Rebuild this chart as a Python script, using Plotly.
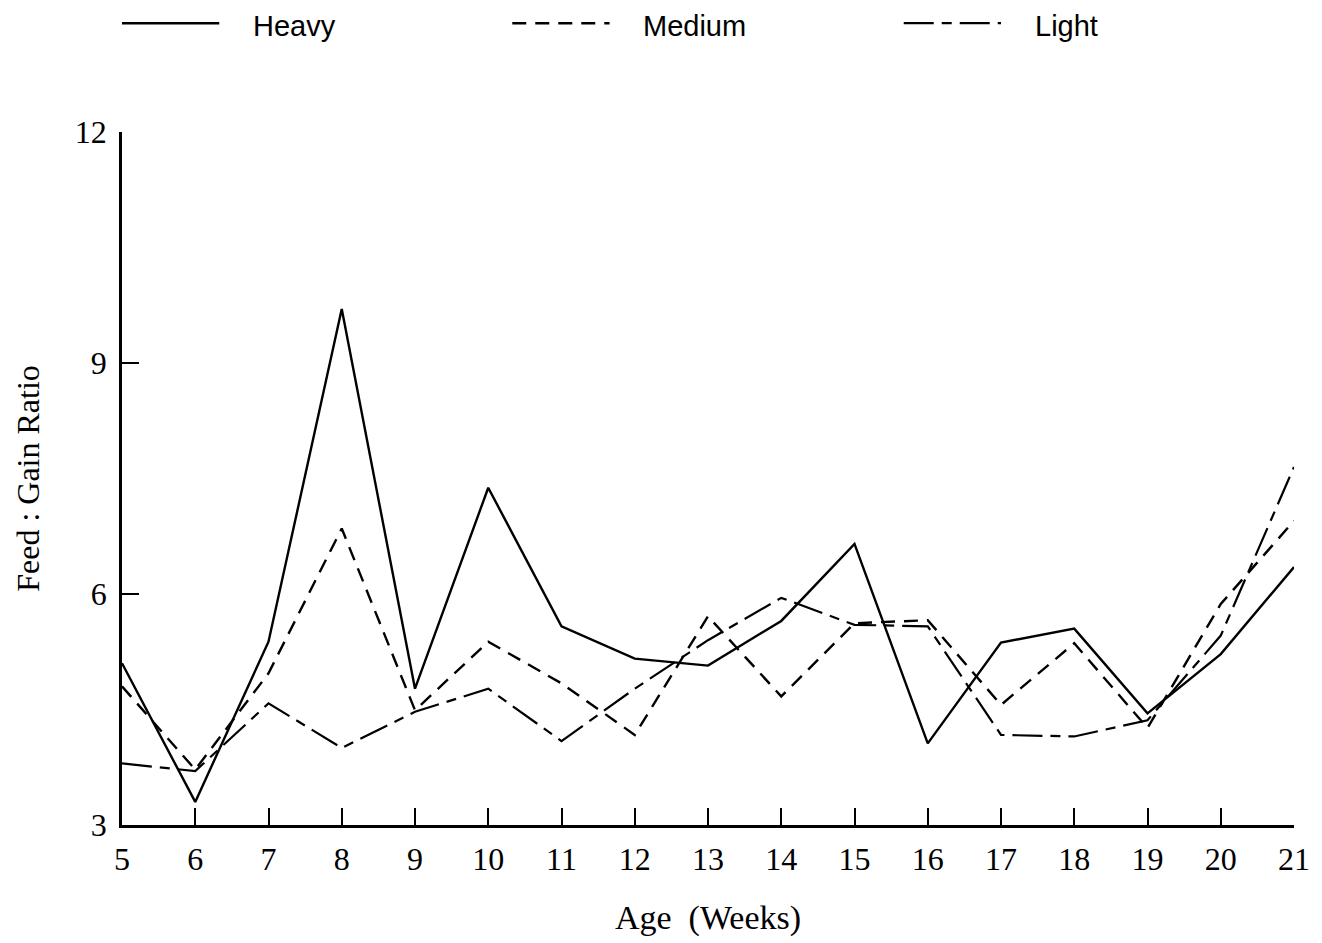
import plotly.graph_objects as go

weeks = list(range(5, 22))
heavy = [5.1, 3.3, 5.38, 9.7, 4.77, 7.38, 5.58, 5.16, 5.07, 5.65, 6.65, 4.06, 5.37, 5.55, 4.45, 5.22, 6.35]
medium = [4.8, 3.72, 4.97, 6.85, 4.49, 5.38, 4.84, 4.17, 5.71, 4.67, 5.62, 5.66, 4.56, 5.36, 4.26, 5.87, 6.95]
light = [3.8, 3.7, 4.58, 4.0, 4.47, 4.77, 4.09, 4.77, 5.4, 5.95, 5.6, 5.58, 4.17, 4.15, 4.36, 5.46, 7.65]

names = ["Heavy", "Medium", "Light"]
series = [heavy, medium, light]
dashes = ["solid", "14px,9px", "30px,8px,10px,8px"]
widths = [2.4, 2.4, 2.2]

# legend layout (paper coords)
leg_x0 = [0.0, 0.333, 0.667]
leg_len = 0.083
leg_text_gap = 0.027
leg_y = 1.157

fig = go.Figure()
for n, s, d, w in zip(names, series, dashes, widths):
    fig.add_trace(go.Scatter(x=weeks, y=s, mode="lines", name=n, showlegend=False,
                             line=dict(color="black", width=w, dash=d)))

for n, d, w, x0 in zip(names, dashes, widths, leg_x0):
    fig.add_shape(type="line", xref="paper", yref="paper",
                  x0=x0, x1=x0 + leg_len, y0=leg_y, y1=leg_y,
                  line=dict(color="black", width=w, dash=d))
    fig.add_annotation(xref="paper", yref="paper", x=x0 + leg_len + leg_text_gap, y=leg_y - 0.004,
                       xanchor="left", yanchor="middle", showarrow=False, text=n,
                       font=dict(family="Liberation Sans", size=29, color="black"))

serif = "Liberation Serif"
fig.update_layout(
    width=1322, height=943,
    margin=dict(l=122, r=21, t=132, b=116),
    plot_bgcolor="white", paper_bgcolor="white",
    xaxis=dict(range=[5, 21], tickmode="array", tickvals=weeks,
               ticks="inside", ticklen=17, tickwidth=2, tickcolor="black",
               showline=True, linecolor="black", linewidth=2.5,
               showgrid=False, zeroline=False, ticklabelstandoff=4,
               tickfont=dict(family=serif, size=32, color="black"),
               title=dict(text="Age  (Weeks)", font=dict(family=serif, size=34, color="black"), standoff=30)),
    yaxis=dict(range=[3, 12], tickmode="array", tickvals=[3, 6, 9, 12],
               ticks="inside", ticklen=17, tickwidth=2, tickcolor="black",
               showline=True, linecolor="black", linewidth=2.5,
               showgrid=False, zeroline=False, ticklabelstandoff=6,
               tickfont=dict(family=serif, size=32, color="black"),
               title=dict(text="Feed : Gain Ratio", font=dict(family=serif, size=32, color="black"), standoff=26)),
)

fig.write_html("out.html")
